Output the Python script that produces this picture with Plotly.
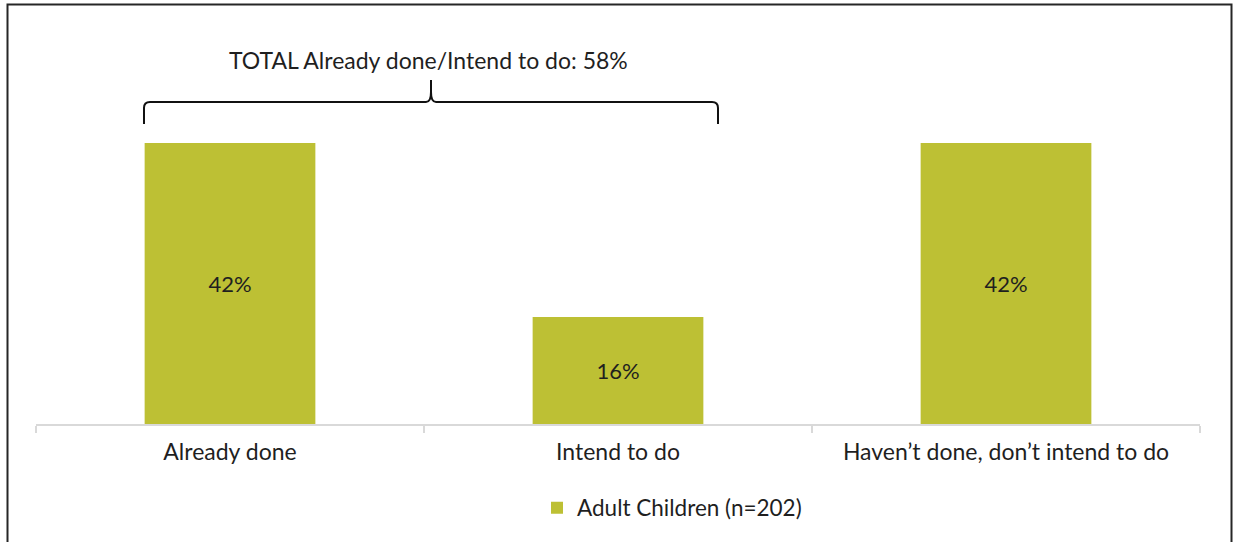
import plotly.graph_objects as go

categories = ["Already done", "Intend to do", "Haven\u2019t done, don\u2019t intend to do"]
values = [42, 16, 42]
value_labels = ["42%", "16%", "42%"]
series_name = "Adult Children (n=202)"
total_label = "TOTAL Already done/Intend to do: 58%"

W, H = 1233, 542
L, R, T, B = 36, 33, 40, 118
PW, PH = W - L - R, H - T - B
BASE_Y = H - B  # pixel of y=0
PX_PER_UNIT = 281 / 42.0
YMAX = PH / PX_PER_UNIT

def px(x):
    return (x - L) / PW

def py(y):
    return (BASE_Y - y) / PH

BAR = "#BDC034"
TXT = "#1f1f1f"
FONT = "Lato"
FS = 23

fig = go.Figure()
fig.add_trace(go.Bar(
    x=categories, y=values, name=series_name,
    marker=dict(color=BAR, line=dict(width=0)),
    text=value_labels, textposition="inside", insidetextanchor="middle",
    textfont=dict(size=FS - 1, color=TXT, family=FONT),
    showlegend=True,
))

# brace path (pixel coords -> paper)
pts = [
    ("M", 144, 124), ("L", 144, 108), ("Q", 144, 102, 150, 102),
    ("L", 426, 102), ("Q", 431, 102, 431, 92), ("L", 431, 80),
    ("L", 431, 92), ("Q", 431, 102, 436, 102),
    ("L", 712, 102), ("Q", 718, 102, 718, 108), ("L", 718, 124),
]
path = ""
for p in pts:
    cmd = p[0]
    coords = p[1:]
    segs = []
    for i in range(0, len(coords), 2):
        segs.append(f"{px(coords[i]):.5f},{py(coords[i+1]):.5f}")
    path += cmd + " ".join(segs) + " "

fig.add_shape(type="path", path=path.strip(), xref="paper", yref="paper",
              line=dict(color="#111111", width=2))

# outer frame
fig.add_shape(type="rect", xref="paper", yref="paper",
              x0=px(7.5), x1=px(1231.5), y0=py(4.5), y1=py(560),
              line=dict(color="#262626", width=2), fillcolor="rgba(0,0,0,0)")

fig.add_annotation(x=px(428), y=py(60), xref="paper", yref="paper",
                   text=total_label, showarrow=False,
                   font=dict(size=FS, color=TXT, family=FONT),
                   xanchor="center", yanchor="middle")

fig.update_layout(
    width=W, height=H,
    margin=dict(l=L, r=R, t=T, b=B, pad=0),
    paper_bgcolor="white", plot_bgcolor="white",
    bargap=0.56,
    font=dict(family=FONT, size=FS, color=TXT),
    legend=dict(orientation="h", x=px(537), xanchor="left", y=py(508), yanchor="middle",
                font=dict(size=FS - 0.5, color=TXT, family=FONT), bgcolor="rgba(0,0,0,0)",
                itemwidth=30),
    xaxis=dict(showline=True, linecolor="#d9d9d9", linewidth=2,
               ticks="outside", tickson="boundaries", ticklen=7, tickcolor="#d9d9d9", tickwidth=2,
               ticklabelstandoff=6,
               tickfont=dict(size=FS, color=TXT, family=FONT), showgrid=False, zeroline=False),
    yaxis=dict(range=[0, YMAX], visible=False, showgrid=False, zeroline=False),
)

fig.write_html("out.html", config={"displayModeBar": False},
               post_script="document.body.style.margin='0';document.body.style.overflow='hidden';")
